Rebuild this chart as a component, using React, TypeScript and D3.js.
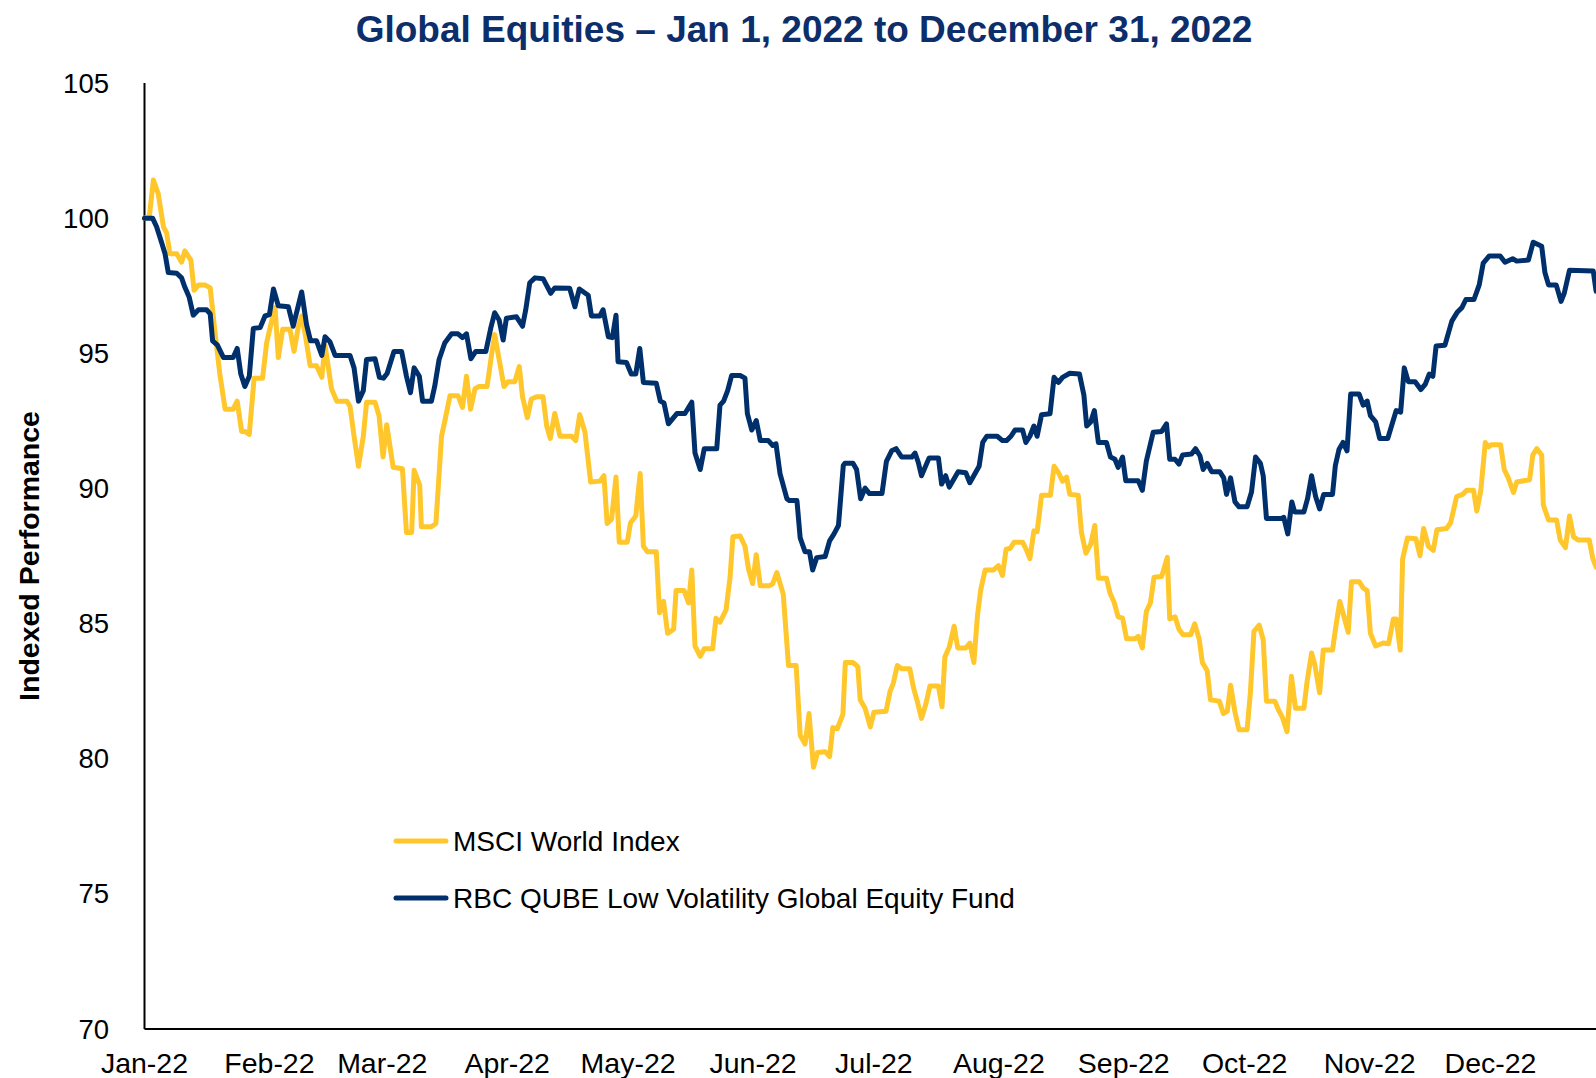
import React from "react";
import * as d3 from "d3";

const TITLE = "Global Equities – Jan 1, 2022 to December 31, 2022";
const Y_TITLE = "Indexed Performance";
const SERIES_NAMES = ["MSCI World Index", "RBC QUBE Low Volatility Global Equity Fund"];
const SERIES_COLORS = ["#ffc72c", "#00306b"];
const Y_TICKS = [70, 75, 80, 85, 90, 95, 100, 105];

// [days since Jan 1 2022, indexed value]
const msci: [number, number][] = [
  [0, 100], [1.2, 100.06], [2.2, 101.41], [3.4, 100.91], [4.7, 99.68], [5.5, 99.45], [6.3, 98.68], [8, 98.68],
  [9.2, 98.37], [10, 98.79], [11.5, 98.45], [12.3, 97.33], [13.4, 97.53], [15, 97.53], [16.3, 97.42], [17.5, 95.77],
  [18.7, 94.23], [20, 92.93], [22, 92.93], [23, 93.23], [24.1, 92.11], [24.9, 92.11], [26, 92.0], [27.2, 94.08],
  [29.3, 94.08], [30.3, 95.38], [31.6, 96.23], [32.4, 96.69], [33.2, 94.84], [34.3, 95.89], [36.1, 95.89], [37.1, 95.07],
  [38.2, 96.0], [39, 96.38], [39.8, 95.77], [41.1, 94.54], [42.7, 94.54], [44, 94.11], [44.8, 95.3], [46.4, 93.69],
  [47.7, 93.23], [50.2, 93.23], [51, 93.03], [52, 91.93], [53.1, 90.82], [54.3, 91.93], [55.1, 93.19], [57.2, 93.19],
  [58.2, 92.69], [59.2, 91.16], [60.1, 92.36], [61.7, 90.78], [64, 90.73], [65, 88.37], [66.3, 88.37], [66.9, 90.67],
  [68.3, 90.12], [68.7, 88.58], [71.2, 88.58], [72.3, 88.7], [72.9, 90.05], [73.7, 91.93], [74.7, 92.62], [75.8, 93.43],
  [77.8, 93.43], [78.9, 93.0], [79.9, 94.15], [80.9, 92.93], [82, 93.69], [83, 93.77], [85, 93.77], [86.1, 94.92],
  [86.9, 95.69], [89.2, 93.77], [90.2, 93.95], [91.9, 93.95], [93, 94.51], [93.8, 93.39], [95, 92.62], [96, 93.31],
  [97.3, 93.39], [98.9, 93.39], [99.8, 92.31], [100.7, 91.85], [101.8, 92.77], [103.1, 91.93], [106, 91.93], [107, 91.77],
  [108, 92.73], [109.3, 92.08], [110.7, 90.24], [113, 90.27], [114, 90.47], [114.8, 88.7], [115.9, 88.86], [117, 90.42],
  [117.8, 88.01], [119.8, 88.01], [120.6, 88.73], [121.9, 88.98], [123, 90.55], [123.8, 87.86], [124.8, 87.66], [127, 87.66],
  [127.8, 85.4], [128.8, 85.82], [129.8, 84.64], [131.3, 84.79], [131.9, 86.22], [133.9, 86.22], [135, 85.76], [135.8, 86.98],
  [136.6, 84.17], [137.9, 83.79], [138.9, 84.07], [141, 84.07], [141.8, 85.2], [142.8, 85.05], [144.3, 85.51], [145.3, 86.71],
  [146, 88.21], [147.8, 88.24], [149, 87.86], [149.9, 87.01], [150.9, 86.48], [151.8, 87.55], [152.8, 86.4], [155.1, 86.4],
  [155.9, 86.48], [156.9, 86.89], [158.5, 86.09], [159.8, 83.45], [161.7, 83.45], [162.7, 80.87], [163.9, 80.54], [164.9, 81.67],
  [166, 79.68], [167, 80.23], [168.9, 80.26], [170, 80.08], [170.8, 81.15], [171.9, 81.11], [173.3, 81.64], [173.9, 83.56],
  [175.8, 83.56], [177, 83.41], [177.6, 82.18], [178.8, 81.87], [180.1, 81.18], [181, 81.72], [184, 81.76], [185, 82.49],
  [185.8, 82.79], [186.8, 83.45], [187.9, 83.33], [189.9, 83.33], [190.8, 82.64], [191.8, 82.1], [192.8, 81.49], [193.9, 82.03],
  [194.9, 82.69], [197, 82.69], [197.9, 81.92], [198.6, 83.76], [199.7, 84.13], [200.9, 84.9], [201.8, 84.1], [203.8, 84.1],
  [204.8, 84.28], [205.8, 83.56], [206.7, 85.3], [207.5, 86.25], [208.6, 86.98], [210.6, 86.98], [211.9, 87.14], [212.9, 86.78],
  [213.8, 87.75], [214.8, 87.78], [215.8, 88.01], [217.9, 88.01], [218.9, 87.71], [219.7, 87.4], [220.7, 88.43], [221.5, 88.4],
  [222.6, 89.75], [224.8, 89.75], [225.7, 90.82], [226.8, 90.58], [227.8, 90.27], [228.8, 90.42], [229.6, 89.78], [231.7, 89.75],
  [232.5, 88.37], [233.6, 87.6], [234.8, 87.94], [235.8, 88.63], [236.7, 86.68], [238.7, 86.68], [239.6, 86.12], [240.6, 85.79],
  [241.6, 85.25], [242.7, 85.2], [243.7, 84.44], [245.8, 84.44], [246.6, 84.53], [247.6, 84.1], [248.6, 85.45], [249.6, 85.76],
  [250.5, 86.71], [252.4, 86.74], [253.8, 87.45], [254.4, 85.17], [255.7, 85.25], [256.7, 84.79], [257.7, 84.59], [259.6, 84.59],
  [260.6, 84.99], [261.7, 84.44], [262.5, 83.56], [263.7, 83.25], [264.5, 82.18], [266.7, 82.13], [267.7, 81.67], [268.7, 81.76],
  [269.5, 82.72], [270.6, 81.72], [271.6, 81.07], [273.6, 81.07], [274.4, 82.41], [275.3, 84.71], [276.6, 84.94], [277.6, 84.4],
  [278.4, 82.13], [280.5, 82.13], [281.3, 81.83], [282.4, 81.52], [283.5, 81.0], [284.6, 83.05], [285.6, 81.87], [287.7, 81.87],
  [288.5, 82.87], [289.6, 83.91], [290.4, 83.48], [291.6, 82.44], [292.5, 84.02], [294.8, 84.02], [295.6, 84.87], [296.6, 85.82],
  [297.8, 85.17], [298.7, 84.68], [299.5, 86.55], [301.4, 86.55], [302.4, 86.32], [303.4, 86.22], [304.2, 84.64], [305.5, 84.17],
  [307.4, 84.28], [308.7, 84.25], [309.9, 85.17], [310.6, 85.17], [311.6, 84.02], [312.2, 87.4], [313.4, 88.17], [315.5, 88.14],
  [316.5, 87.51], [317.4, 88.52], [318.6, 87.86], [319.8, 87.71], [320.7, 88.47], [323.1, 88.52], [324.1, 88.73], [325.6, 89.7],
  [327.1, 89.78], [328.1, 89.93], [329.8, 89.93], [330.6, 89.16], [331.6, 89.93], [332.7, 91.7], [333.5, 91.54], [334.3, 91.62],
  [336.5, 91.62], [337.4, 90.7], [338.4, 90.39], [339.7, 89.85], [340.5, 90.24], [343.7, 90.32], [344.5, 91.24], [345.5, 91.47],
  [346.7, 91.24], [347.1, 89.39], [348.4, 88.83], [350.4, 88.83], [351.3, 88.09], [352.6, 87.81], [353.6, 88.98], [354.6, 88.21],
  [355.8, 88.09], [358.5, 88.09], [359.4, 87.4], [360.2, 87.09],
];

const rbc: [number, number][] = [
  [0, 100], [2, 100], [3, 99.68], [4.3, 99.07], [5.1, 98.68], [5.9, 97.99], [8, 97.96], [9.2, 97.79],
  [10, 97.45], [11.1, 97.07], [12.1, 96.41], [13.4, 96.61], [15.4, 96.61], [16.3, 96.46], [16.9, 95.46], [18.1, 95.3],
  [19.6, 94.84], [22, 94.84], [23, 95.18], [23.9, 94.23], [24.9, 93.77], [26, 94.15], [27, 95.92], [28.7, 95.95],
  [29.9, 96.38], [31, 96.43], [32, 97.38], [33.2, 96.76], [35.7, 96.72], [36.9, 96.0], [39, 97.27], [40.2, 96.07],
  [41.2, 95.46], [42.7, 95.46], [44, 94.92], [44.8, 95.61], [46, 95.43], [47.3, 94.92], [51, 94.92], [52, 94.46],
  [53.1, 93.23], [54.3, 93.62], [55.1, 94.77], [57.2, 94.8], [58.3, 94.11], [59.3, 94.08], [60.2, 94.25], [61.9, 95.07],
  [63.8, 95.07], [65, 94.15], [66, 93.54], [66.9, 94.46], [68.2, 94.15], [69, 93.23], [71.2, 93.23], [72, 93.77],
  [73.1, 94.77], [74.5, 95.38], [76.2, 95.72], [77.8, 95.72], [78.9, 95.58], [79.9, 95.72], [81, 94.8], [82.2, 95.07],
  [84.7, 95.07], [85.9, 95.92], [86.9, 96.5], [88, 96.23], [89, 95.49], [89.8, 96.3], [92.3, 96.35], [93.8, 96.0],
  [94.6, 96.61], [95.6, 97.61], [96.9, 97.79], [98.9, 97.76], [100.8, 97.22], [101.8, 97.42], [105.5, 97.41], [106.8, 96.72],
  [107.9, 97.38], [110.1, 97.15], [110.9, 96.38], [113, 96.38], [113.8, 96.61], [115.1, 95.61], [116.1, 95.58], [117, 96.41],
  [117.5, 94.69], [119.6, 94.66], [120.8, 94.23], [121.9, 94.23], [122.9, 95.18], [123.8, 93.92], [127, 93.89], [128, 93.23],
  [128.9, 93.16], [130, 92.39], [132.1, 92.77], [134.1, 92.77], [135.8, 93.19], [136.6, 91.31], [137.9, 90.7], [138.9, 91.47],
  [142, 91.47], [142.8, 93.08], [143.7, 93.23], [144.7, 93.62], [145.7, 94.18], [147.8, 94.18], [149, 94.08], [149.6, 92.77],
  [150.7, 92.16], [151.8, 92.51], [152.8, 91.77], [154.8, 91.77], [155.9, 91.59], [156.7, 91.65], [157.7, 90.55], [159.4, 89.62],
  [160, 89.55], [161.9, 89.55], [162.7, 88.17], [163.9, 87.66], [165, 87.66], [165.8, 86.98], [166.8, 87.44], [168.9, 87.48],
  [170, 88.06], [171.1, 88.32], [172.2, 88.63], [173.4, 90.85], [173.8, 90.93], [175.8, 90.93], [176.7, 90.7], [177.7, 89.62],
  [178.8, 90.01], [179.9, 89.81], [183, 89.81], [184.1, 91.0], [185.4, 91.39], [186.5, 91.47], [187.9, 91.16], [190.4, 91.16],
  [191.2, 91.31], [192, 90.97], [192.8, 90.47], [194.7, 91.13], [197, 91.13], [197.8, 90.16], [198.8, 90.47], [199.7, 90.05],
  [201.9, 90.62], [203.8, 90.58], [204.8, 90.21], [207.1, 90.82], [208, 91.7], [209, 91.93], [211.6, 91.93], [212.9, 91.77],
  [213.9, 91.77], [215, 91.93], [216, 92.16], [217.9, 92.16], [218.7, 91.7], [219.7, 91.93], [220.7, 92.31], [221.5, 91.93],
  [222.6, 92.73], [224.7, 92.76], [225.7, 94.11], [226.8, 93.92], [227.8, 94.11], [229.6, 94.26], [232, 94.23], [233.1, 93.46],
  [233.8, 92.31], [234.8, 92.46], [235.7, 92.88], [236.7, 91.7], [238.7, 91.7], [239.7, 91.16], [240.8, 91.08], [241.6, 90.78],
  [242.7, 91.16], [243.5, 90.28], [246.6, 90.28], [247.6, 89.93], [248.6, 91.01], [250.3, 92.08], [252.4, 92.11], [253.6, 92.39],
  [254.4, 91.08], [255.7, 91.08], [256.7, 90.9], [257.6, 91.24], [259.8, 91.27], [260.8, 91.47], [261.9, 91.21], [262.7, 90.7],
  [263.7, 90.93], [264.8, 90.62], [266.8, 90.62], [267.8, 90.39], [268.5, 89.78], [269.5, 90.39], [270.6, 89.5], [271.6, 89.32],
  [273.6, 89.32], [274.7, 89.87], [275.7, 91.16], [276.9, 90.93], [277.6, 90.47], [278.4, 88.89], [282.1, 88.89], [282.7, 88.93],
  [283.7, 88.32], [284.7, 89.5], [285.4, 89.13], [287.7, 89.13], [288.6, 89.62], [289.6, 90.47], [290.6, 89.7], [291.6, 89.24],
  [292.6, 89.78], [294.8, 89.78], [295.5, 90.85], [296.4, 91.44], [297.4, 91.7], [298.4, 91.39], [299.3, 93.49], [301.4, 93.49],
  [302.4, 93.08], [303.4, 93.23], [304.2, 92.69], [305.5, 92.46], [306.5, 91.85], [308.5, 91.85], [310.6, 92.88], [311.7, 92.82],
  [312.6, 94.46], [313.6, 93.95], [315.3, 93.95], [316.7, 93.66], [317.8, 93.85], [318.8, 94.23], [319.7, 94.15], [320.5, 95.27],
  [322.7, 95.3], [324.4, 96.19], [325.8, 96.53], [326.9, 96.69], [327.9, 96.99], [329.9, 96.99], [331.2, 97.53], [332.2, 98.34],
  [333.7, 98.6], [336.4, 98.6], [337.6, 98.37], [339.5, 98.5], [340.5, 98.41], [343.4, 98.45], [344.6, 99.11], [346.7, 98.96],
  [347.5, 97.99], [348.4, 97.53], [350.3, 97.53], [351.5, 96.92], [352.3, 97.22], [353.6, 98.07], [359.5, 98.04], [360.2, 97.3],
];

const START = new Date(2022, 0, 1);
const END = new Date(2022, 11, 31);
const FONT = "'Liberation Sans', Arial, Helvetica, sans-serif";

const W = 1596;
const H = 1078;

const dayToDate = (d: number) => new Date(START.getTime() + d * 86400000);

const App: React.FC = () => {
  const x = d3.scaleTime().domain([START, END]).range([144.5, 1611.4]);
  const y = d3.scaleLinear().domain([70, 105]).range([1029, 83]);

  const line = d3
    .line<[number, number]>()
    .x((d) => x(dayToDate(d[0])))
    .y((d) => y(d[1]));

  const months = d3.timeMonth.range(START, END);
  const fmt = d3.timeFormat("%b-%y");
  const series = [msci, rbc];

  return (
    <svg
      width={W}
      height={H}
      style={{ position: "absolute", left: 0, top: 0, background: "#fff" }}
      fontFamily={FONT}
    >
      <text x={804} y={42} textAnchor="middle" fontSize={37} fontWeight="bold" fill="#0c2e6b">
        {TITLE}
      </text>

      {/* y axis */}
      <line x1={x(START)} x2={x(START)} y1={y(105)} y2={y(70)} stroke="#000" strokeWidth={2} />
      {Y_TICKS.map((t) => (
        <text key={t} x={109} y={y(t)} textAnchor="end" dominantBaseline="central" fontSize={27.5} fill="#000">
          {t}
        </text>
      ))}
      <text
        transform={`translate(39,556) rotate(-90)`}
        textAnchor="middle"
        fontSize={28.5}
        fontWeight="bold"
        fill="#000"
      >
        {Y_TITLE}
      </text>

      {/* x axis */}
      <line x1={x(START)} x2={W} y1={y(70)} y2={y(70)} stroke="#000" strokeWidth={2} />
      {months.map((m) => (
        <text key={m.getTime()} x={x(m)} y={1073} textAnchor="middle" fontSize={28.5} fill="#000">
          {fmt(m)}
        </text>
      ))}

      {series.map((s, i) => (
        <path
          key={i}
          d={line(s) ?? ""}
          fill="none"
          stroke={SERIES_COLORS[i]}
          strokeWidth={5}
          strokeLinejoin="round"
          strokeLinecap="round"
        />
      ))}

      {/* legend */}
      {SERIES_NAMES.map((name, i) => (
        <g key={name} transform={`translate(396,${841 + i * 57})`}>
          <line x1={0} x2={50} y1={0} y2={0} stroke={SERIES_COLORS[i]} strokeWidth={5} strokeLinecap="round" />
          <text x={57} y={0} dominantBaseline="central" fontSize={28} fill="#000">
            {name}
          </text>
        </g>
      ))}
    </svg>
  );
};

export default App;
